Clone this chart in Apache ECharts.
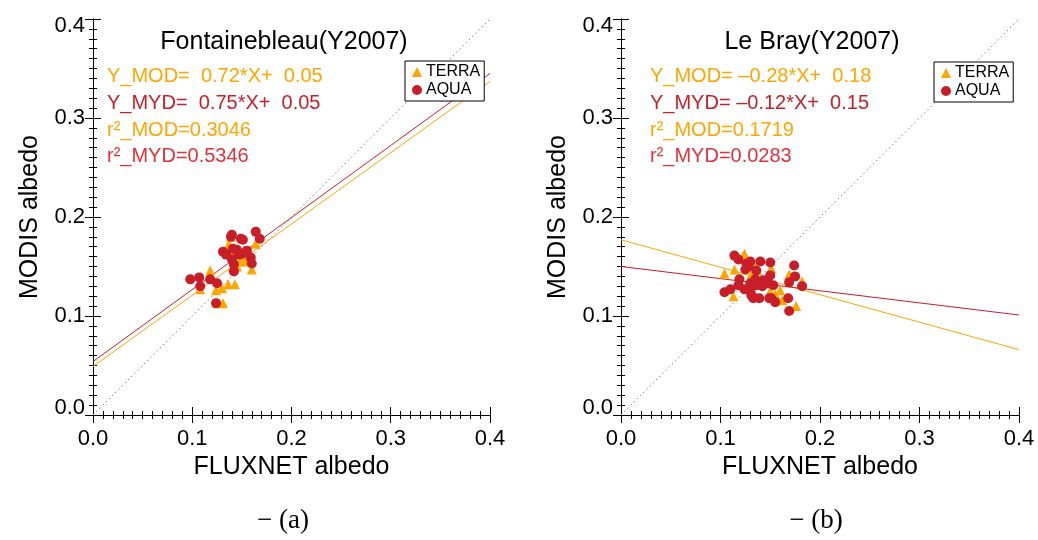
<!DOCTYPE html>
<html>
<head>
<meta charset="utf-8">
<script src="https://cdn.jsdelivr.net/npm/echarts@6/dist/echarts.min.js"></script>
<style>
  html, body { margin: 0; padding: 0; background: #fff; }
  #main { width: 1038px; height: 540px; }
</style>
</head>
<body>
<div id="main"></div>
<script>
// 数据：FLUXNET albedo (x) 与 MODIS albedo (y)
var terraA = [
  [0.118, 0.146], [0.108, 0.127], [0.124, 0.126], [0.130, 0.128], [0.136, 0.132],
  [0.143, 0.132], [0.131, 0.113], [0.125, 0.113], [0.137, 0.173], [0.139, 0.180],
  [0.141, 0.163], [0.148, 0.155], [0.154, 0.155], [0.160, 0.147], [0.164, 0.173],
  [0.145, 0.150], [0.141, 0.150], [0.152, 0.160], [0.138, 0.168]
]
var aquaA = [
  [0.098, 0.137], [0.107, 0.139], [0.108, 0.130], [0.118, 0.137], [0.125, 0.133],
  [0.124, 0.113], [0.131, 0.165], [0.134, 0.162], [0.139, 0.180], [0.140, 0.182],
  [0.141, 0.168], [0.140, 0.157], [0.142, 0.145], [0.142, 0.152], [0.145, 0.167],
  [0.147, 0.162], [0.149, 0.178], [0.151, 0.177], [0.155, 0.166], [0.150, 0.163],
  [0.159, 0.159], [0.160, 0.153], [0.164, 0.185], [0.168, 0.178]
]
var terraB = [
  [0.124, 0.163], [0.132, 0.154], [0.114, 0.147], [0.104, 0.143], [0.131, 0.142],
  [0.137, 0.146], [0.151, 0.148], [0.169, 0.142], [0.182, 0.135], [0.160, 0.126],
  [0.150, 0.125], [0.155, 0.122], [0.162, 0.116], [0.176, 0.110], [0.113, 0.120],
  [0.130, 0.130], [0.135, 0.133]
]
var aquaB = [
  [0.114, 0.161], [0.118, 0.157], [0.126, 0.153], [0.130, 0.155], [0.140, 0.155],
  [0.150, 0.154], [0.125, 0.147], [0.128, 0.150], [0.136, 0.146], [0.150, 0.141],
  [0.119, 0.137], [0.135, 0.137], [0.143, 0.136], [0.174, 0.151], [0.175, 0.140],
  [0.169, 0.134], [0.182, 0.130], [0.118, 0.131], [0.130, 0.133], [0.136, 0.131],
  [0.148, 0.133], [0.153, 0.131], [0.104, 0.124], [0.110, 0.127], [0.124, 0.127],
  [0.130, 0.125], [0.131, 0.121], [0.132, 0.120], [0.139, 0.118], [0.149, 0.118],
  [0.151, 0.118], [0.155, 0.114], [0.168, 0.118], [0.169, 0.105], [0.133, 0.118],
  [0.142, 0.130]
]
// 拟合直线端点
var fitModA = [[0, 0.049], [0.4, 0.337]]
var fitMydA = [[0, 0.054], [0.4, 0.345]]
var fitModB = [[0, 0.177], [0.4, 0.066]]
var fitMydB = [[0, 0.150], [0.4, 0.101]]
var oneToOne = [[0, 0], [0.4, 0.4]]

var titles = ['Fontainebleau(Y2007)', 'Le Bray(Y2007)']
var captions = ['\u2212 (a)', '\u2212 (b)']
var eqA = ['Y_MOD=  0.72*X+  0.05', 'Y_MYD=  0.75*X+  0.05', 'r\u00b2_MOD=0.3046', 'r\u00b2_MYD=0.5346']
var eqB = ['Y_MOD= \u20130.28*X+  0.18', 'Y_MYD= \u20130.12*X+  0.15', 'r\u00b2_MOD=0.1719', 'r\u00b2_MYD=0.0283']

var ORANGE = '#FFA500'
var RED = '#C81E28'
var FONT = 'Liberation Sans, Arial, sans-serif'

var grids = [
  { left: 93, top: 19, width: 397, height: 396 },
  { left: 621, top: 19, width: 398, height: 396 }
]

function axis(gridIndex, pos, isX, showLabel) {
  var a = {
    type: 'value',
    gridIndex: gridIndex,
    position: pos,
    min: 0,
    max: 0.4,
    interval: 0.1,
    axisLine: { show: true, lineStyle: { color: '#000', width: 1 } },
    // 负长度让刻度朝绘图区内侧
    axisTick: { show: true, inside: false, length: -8, lineStyle: { color: '#000' } },
    minorTick: { show: true, splitNumber: 10, length: -4, lineStyle: { color: '#000' } },
    splitLine: { show: false },
    axisLabel: {
      show: showLabel,
      color: '#000',
      fontSize: 22,
      fontFamily: FONT,
      margin: isX ? 13 : 8,
      formatter: function (v) { return v.toFixed(1) }
    }
  }
  if (showLabel) {
    a.name = isX ? 'FLUXNET albedo' : 'MODIS albedo'
    a.nameLocation = 'middle'
    a.nameGap = isX ? 40 : 50
    a.nameTextStyle = { color: '#000', fontSize: 25, fontFamily: FONT }
    if (!isX) {
      a.axisLabel.lineHeight = 14
      a.axisLabel.verticalAlignMinLabel = 'bottom'
      a.axisLabel.verticalAlignMaxLabel = 'top'
    }
  }
  return a
}

var xAxes = [], yAxes = []
for (var g = 0; g < 2; g++) {
  xAxes.push(axis(g, 'bottom', true, true))
  xAxes.push(axis(g, 'top', true, false))
  yAxes.push(axis(g, 'left', false, true))
  yAxes.push(axis(g, 'right', false, false))
}

function lineSeries(idx, data, color, type) {
  return {
    type: 'line', xAxisIndex: idx, yAxisIndex: idx, data: data,
    symbol: 'none', silent: true, animation: false,
    lineStyle: { color: color, width: 1, type: type || 'solid' }
  }
}
function scatterSeries(idx, name, data, color, symbol) {
  return {
    type: 'scatter', name: name, xAxisIndex: idx, yAxisIndex: idx, data: data,
    symbol: symbol, symbolSize: 10,
    itemStyle: { color: color, opacity: 1 }, animation: false, z: 3
  }
}

var series = [
  lineSeries(0, oneToOne, '#777', [1.5, 3]),
  scatterSeries(0, 'TERRA', terraA, ORANGE, 'triangle'),
  scatterSeries(0, 'AQUA', aquaA, RED, 'circle'),
  lineSeries(0, fitModA, ORANGE),
  lineSeries(0, fitMydA, RED),
  lineSeries(2, oneToOne, '#777', [1.5, 3]),
  scatterSeries(2, 'TERRA', terraB, ORANGE, 'triangle'),
  scatterSeries(2, 'AQUA', aquaB, RED, 'circle'),
  lineSeries(2, fitModB, ORANGE),
  lineSeries(2, fitMydB, RED)
]

function legend(left, top) {
  return {
    left: left, top: top, orient: 'vertical',
    data: [{ name: 'TERRA', icon: 'triangle' }, { name: 'AQUA', icon: 'circle' }],
    itemWidth: 10, itemHeight: 10, itemGap: 2,
    padding: [3, 4, 3, 7],
    borderColor: '#000', borderWidth: 1, borderRadius: 0,
    backgroundColor: '#fff',
    textStyle: { color: '#000', fontSize: 16, fontFamily: FONT, padding: [0, 0, 0, -1] },
    selectedMode: false
  }
}

var eqColors = [ORANGE, RED, ORANGE, '#E0323A']
var eqY = [76, 103, 130, 156]
var graphics = []
function addEq(x, lines) {
  lines.forEach(function (t, i) {
    graphics.push({
      type: 'text', x: x, y: eqY[i],
      style: { text: t, fill: eqColors[i], fontSize: 20, fontFamily: FONT, verticalAlign: 'middle' }
    })
  })
}
addEq(107, eqA)
addEq(650, eqB)
var capX = [283, 816]
captions.forEach(function (c, i) {
  graphics.push({
    type: 'text', x: capX[i], y: 521,
    style: { text: c, fill: '#000', fontSize: 27, fontFamily: 'Liberation Serif, DejaVu Serif, serif', align: 'center', verticalAlign: 'middle' }
  })
})

var chart = echarts.init(document.getElementById('main'))
chart.setOption({
  backgroundColor: '#fff',
  animation: false,
  title: [
    { text: titles[0], left: 279, top: 25, textAlign: 'center', textStyle: { color: '#000', fontSize: 25, fontWeight: 'normal', fontFamily: FONT } },
    { text: titles[1], left: 807, top: 25, textAlign: 'center', textStyle: { color: '#000', fontSize: 25, fontWeight: 'normal', fontFamily: FONT } }
  ],
  grid: grids,
  xAxis: xAxes,
  yAxis: yAxes,
  legend: [legend(405, 61), legend(934, 62)],
  graphic: graphics,
  series: series
})
</script>
</body>
</html>
